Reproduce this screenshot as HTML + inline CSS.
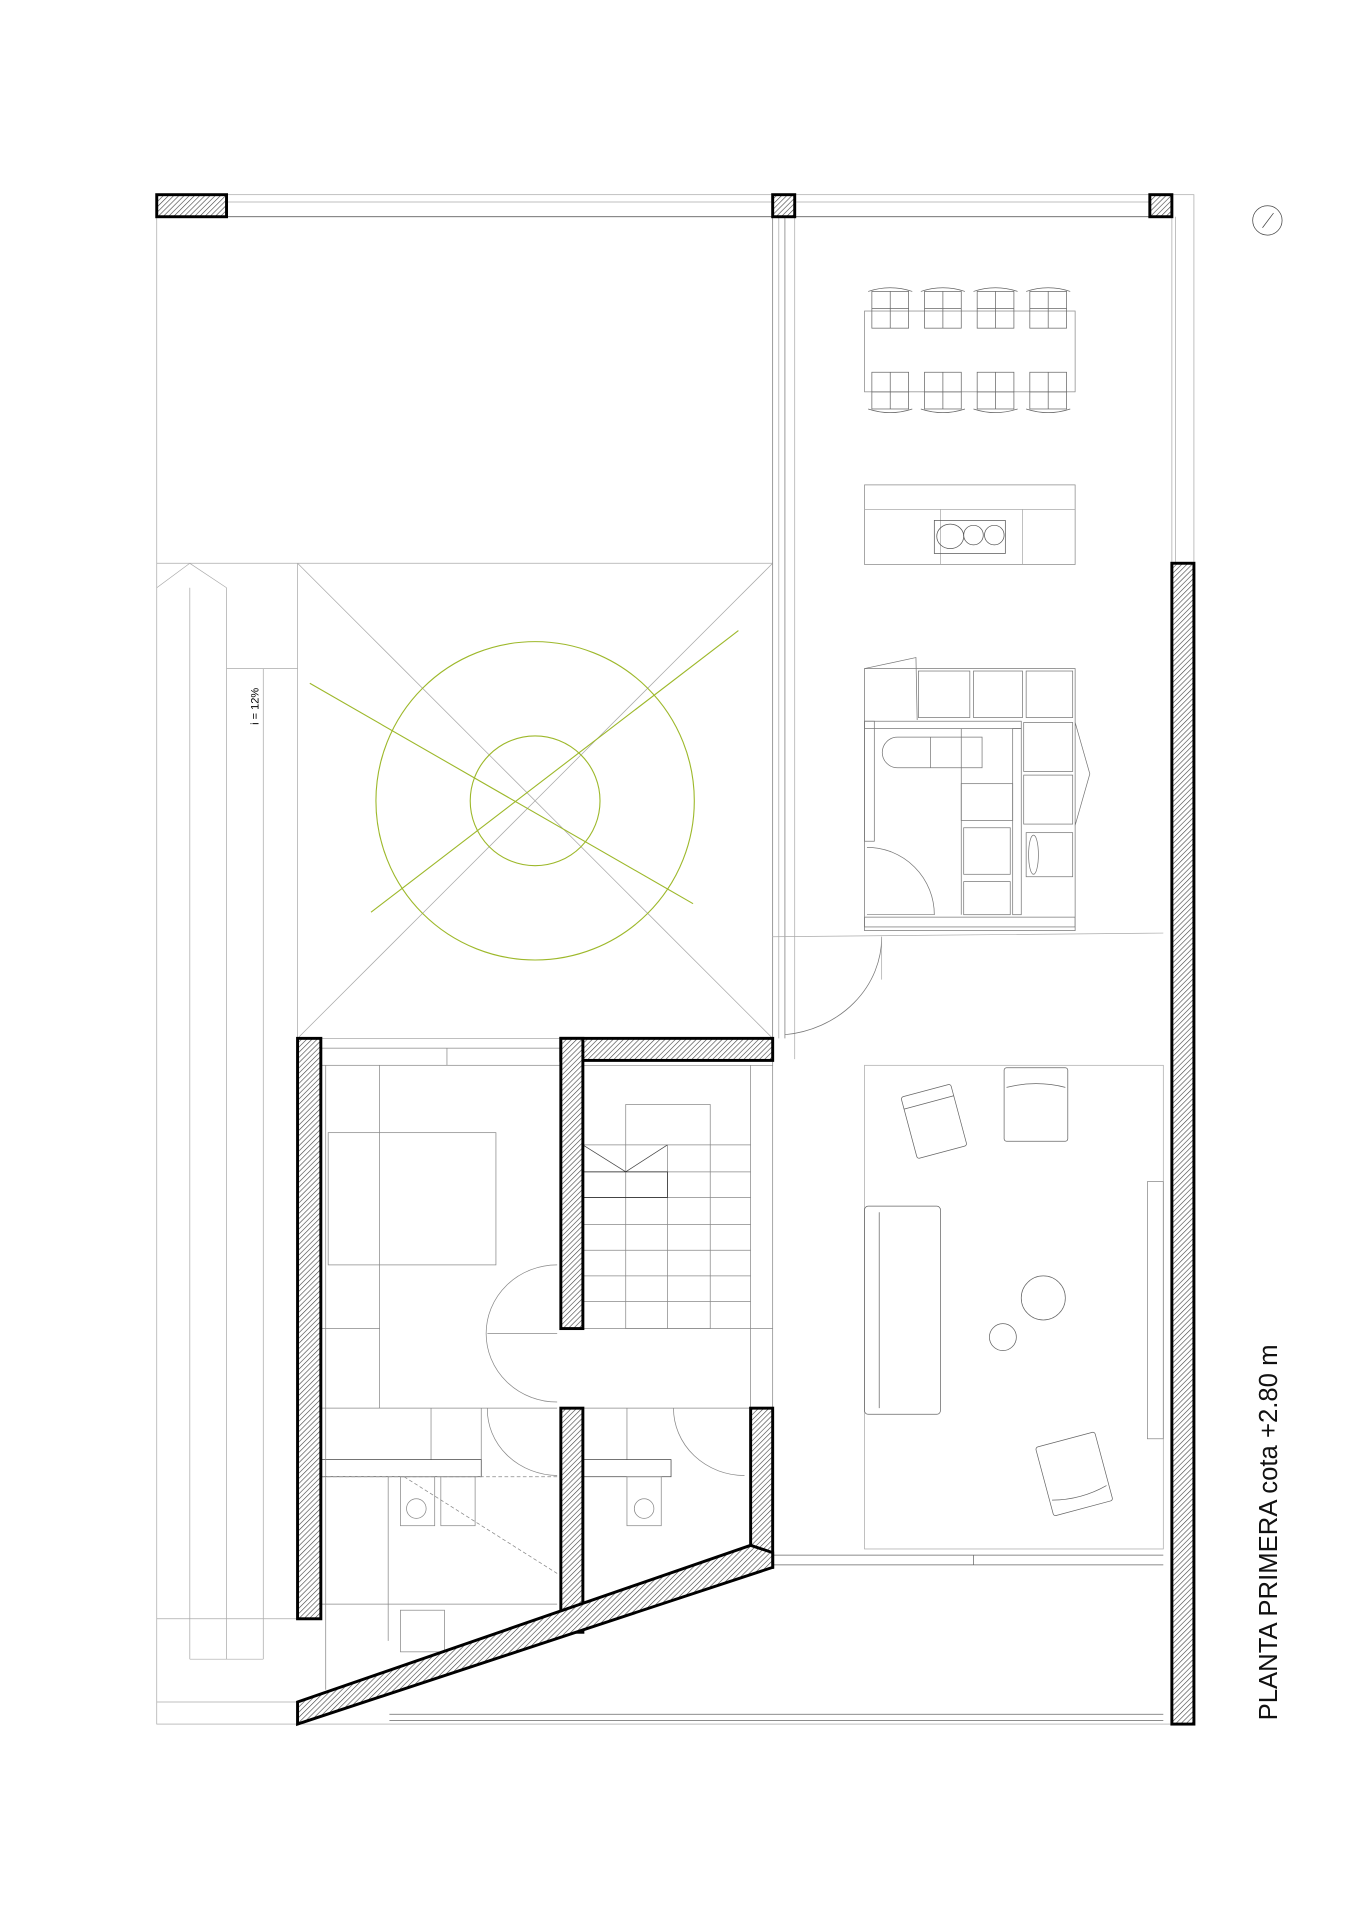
<!DOCTYPE html>
<html><head><meta charset="utf-8"><style>html,body{margin:0;padding:0;background:#fff}svg{display:block}</style></head>
<body>
<svg width="1358" height="1920" viewBox="0 0 1109 1568" preserveAspectRatio="none" xmlns="http://www.w3.org/2000/svg">
<defs>
<pattern id="h" width="3" height="3" patternUnits="userSpaceOnUse" patternTransform="rotate(45)">
<rect width="3" height="3" fill="#fff"/><line x1="0" y1="0" x2="0" y2="3" stroke="#444" stroke-width="1"/></pattern>
</defs>
<g fill="none" stroke="#aaa" stroke-width="0.6">
<rect x="128" y="159" width="847" height="1249"/>
<line x1="185" y1="165" x2="939" y2="165"/><line x1="185" y1="177" x2="939" y2="177" stroke="#444"/>
<line x1="957" y1="177" x2="957" y2="460"/><line x1="960" y1="177" x2="960" y2="460"/>
<line x1="128" y1="460" x2="631" y2="460"/>
<line x1="631" y1="177" x2="631" y2="848" stroke="#777"/><line x1="636" y1="177" x2="636" y2="848"/><line x1="641" y1="177" x2="641" y2="848" stroke="#777"/>
<line x1="649" y1="177" x2="649" y2="865"/>
<line x1="155" y1="480" x2="155" y2="1355"/><line x1="185" y1="480" x2="185" y2="1355"/><line x1="215" y1="546" x2="215" y2="1355"/>
<line x1="243" y1="460" x2="243" y2="848"/>
<polyline points="128,480 155,460 185,480"/>
<line x1="155" y1="1355" x2="215" y2="1355"/>
<line x1="185" y1="546" x2="243" y2="546"/>
<line x1="128" y1="1322" x2="262" y2="1322"/><line x1="128" y1="1390" x2="243" y2="1390"/>
<line x1="243" y1="848" x2="631" y2="848"/>
<line x1="243" y1="460" x2="631" y2="848"/><line x1="631" y1="460" x2="243" y2="848"/>
<line x1="631" y1="765" x2="950" y2="762"/>
<path d="M720,765 A88,80 0 0 1 641,845" stroke="#777"/>
<line x1="720" y1="765" x2="720" y2="800"/>
<rect x="706" y="870" width="244" height="395"/>
<rect x="937" y="965" width="13" height="210" stroke="#888"/>
<line x1="631" y1="1270" x2="950" y2="1270" stroke="#666"/><line x1="631" y1="1278" x2="950" y2="1278" stroke="#666"/>
<line x1="795" y1="1270" x2="795" y2="1278" stroke="#666"/>
<line x1="318" y1="1400" x2="950" y2="1400" stroke="#666"/><line x1="318" y1="1405" x2="950" y2="1405" stroke="#666"/>
<rect x="706" y="254" width="172" height="66" stroke="#888"/>
<g stroke="#666">
<g id="ch"><rect x="712" y="238" width="30" height="30"/><line x1="727" y1="238" x2="727" y2="268"/><line x1="712" y1="252" x2="742" y2="252"/><path d="M709,238 Q727,232 745,238"/></g>
<use href="#ch" x="43"/><use href="#ch" x="86"/><use href="#ch" x="129"/>
<g transform="translate(0,572) scale(1,-1)"><use href="#ch"/><use href="#ch" x="43"/><use href="#ch" x="86"/><use href="#ch" x="129"/></g>
</g>
<rect x="706" y="396" width="172" height="65" stroke="#888"/><line x1="706" y1="416" x2="878" y2="416"/>
<line x1="768" y1="416" x2="768" y2="461"/><line x1="835" y1="416" x2="835" y2="461"/>
<rect x="763" y="425" width="58" height="27" stroke="#555"/>
<ellipse cx="776" cy="438" rx="11" ry="10" stroke="#555"/><circle cx="795" cy="437" r="8" stroke="#555"/><circle cx="812" cy="437" r="8" stroke="#555"/>
<g stroke="#777">
<rect x="706" y="546" width="172" height="214"/>
<polyline points="706,546 748,537 749,588"/>
<rect x="750" y="548" width="42" height="38"/><rect x="795" y="548" width="40" height="38"/><rect x="838" y="548" width="38" height="38"/>
<rect x="836" y="590" width="40" height="40"/><rect x="836" y="633" width="40" height="40"/>
<polyline points="878,590 890,632 878,674"/>
<rect x="706" y="589" width="128" height="6"/><rect x="706" y="589" width="8" height="98"/><rect x="827" y="595" width="7" height="152"/>
<path d="M733,602 L802,602 L802,627 L733,627 A12,12 0 0 1 733,602 Z"/><line x1="760" y1="602" x2="760" y2="627"/>
<line x1="785" y1="595" x2="785" y2="747"/>
<rect x="785" y="640" width="42" height="30"/><rect x="787" y="676" width="38" height="38"/><rect x="787" y="720" width="38" height="27"/>
<path d="M708,692 A55,55 0 0 1 763,747 L708,747"/>
<rect x="706" y="749" width="172" height="8"/>
<rect x="838" y="680" width="38" height="36"/><ellipse cx="844" cy="698" rx="4" ry="16"/>
</g>
<g stroke="#666">
<g transform="rotate(-15 762 917)"><rect x="742" y="890" width="42" height="52" rx="2"/><line x1="742" y1="900" x2="784" y2="900"/></g>
<rect x="820" y="872" width="52" height="60" rx="2"/><path d="M822,888 Q846,882 870,888"/>
<rect x="706" y="985" width="62" height="170" rx="3"/><line x1="718" y1="990" x2="718" y2="1150"/>
<circle cx="852" cy="1060" r="18"/><circle cx="819" cy="1092" r="11"/>
<g transform="rotate(-15 876 1203)"><rect x="852" y="1175" width="50" height="58" rx="2"/><path d="M854,1220 Q877,1226 900,1220"/></g>
</g>
<g stroke="#888">
<rect x="262" y="856" width="196" height="14"/><line x1="365" y1="856" x2="365" y2="870"/>
<line x1="310" y1="870" x2="310" y2="1150"/>
<rect x="268" y="925" width="137" height="108"/>
<line x1="262" y1="1085" x2="310" y2="1085"/>
<path d="M455,1033 A58,56 0 0 0 455,1145"/><line x1="398" y1="1089" x2="455" y2="1089"/>
<line x1="262" y1="1150" x2="455" y2="1150"/>
<line x1="352" y1="1150" x2="352" y2="1192"/><line x1="393" y1="1150" x2="393" y2="1192"/>
<path d="M398,1150 A58,54 0 0 0 455,1205"/>
<rect x="262" y="1192" width="131" height="14" stroke="#444"/>
<line x1="262" y1="1206" x2="455" y2="1206" stroke-dasharray="3,2"/>
<rect x="327" y="1206" width="28" height="40"/><rect x="360" y="1206" width="28" height="40"/>
<circle cx="340" cy="1232" r="8"/>
<line x1="330" y1="1206" x2="455" y2="1285" stroke-dasharray="3,2"/>
<line x1="262" y1="1310" x2="455" y2="1310"/><line x1="317" y1="1206" x2="317" y2="1340"/>
<rect x="327" y="1315" width="36" height="34"/>
<line x1="266" y1="870" x2="266" y2="1380"/>
<line x1="476" y1="870" x2="631" y2="870"/>
<rect x="511" y="902" width="69" height="183"/>
<line x1="613" y1="870" x2="613" y2="1150"/><line x1="545" y1="935" x2="545" y2="1085"/>
<line x1="476" y1="935" x2="613" y2="935"/><line x1="476" y1="957" x2="613" y2="957"/><line x1="476" y1="978" x2="613" y2="978"/>
<line x1="476" y1="1000" x2="613" y2="1000"/><line x1="476" y1="1021" x2="613" y2="1021"/><line x1="476" y1="1042" x2="613" y2="1042"/><line x1="476" y1="1063" x2="613" y2="1063"/>
<line x1="476" y1="1085" x2="631" y2="1085"/>
<polyline points="476,935 511,957 545,935" stroke="#444"/>
<rect x="476" y="957" width="69" height="21" stroke="#222"/>
<line x1="476" y1="1150" x2="613" y2="1150"/><line x1="512" y1="1150" x2="512" y2="1192"/>
<path d="M550,1150 A58,55 0 0 0 608,1205"/>
<rect x="476" y="1192" width="72" height="14" stroke="#444"/>
<rect x="512" y="1206" width="28" height="40"/><circle cx="526" cy="1232" r="8"/>
<line x1="631" y1="866" x2="631" y2="1150"/>
</g>
<g stroke="#9db82a" stroke-width="0.9">
<circle cx="437" cy="654" r="130"/><circle cx="437" cy="654" r="53"/>
<line x1="253" y1="558" x2="566" y2="738"/><line x1="303" y1="745" x2="603" y2="515"/>
</g>
<circle cx="1035" cy="180" r="12" stroke="#444"/><line x1="1031" y1="186" x2="1040" y2="174" stroke="#444"/>
</g>
<g fill="url(#h)" stroke="#000" stroke-width="2.4">
<rect x="128" y="159" width="57" height="18"/>
<rect x="631" y="159" width="18" height="18"/>
<rect x="939" y="159" width="18" height="18"/>
<rect x="957" y="460" width="18" height="948"/>
<rect x="243" y="848" width="19" height="474"/>
<rect x="458" y="848" width="173" height="18"/>
<rect x="458" y="848" width="18" height="237"/>
<rect x="458" y="1150" width="18" height="183"/>
<rect x="613" y="1150" width="18" height="130"/>
<polygon points="243,1390 613,1262 631,1268 631,1280 243,1408"/>
</g>
<text transform="translate(211,592) rotate(-90)" font-family="Liberation Sans, sans-serif" font-size="9" fill="#000">i = 12%</text>
<text transform="translate(1043,1405) rotate(-90)" font-family="Liberation Sans, sans-serif" font-size="21" fill="#111">PLANTA PRIMERA cota +2.80 m</text>
</svg>
</body></html>
